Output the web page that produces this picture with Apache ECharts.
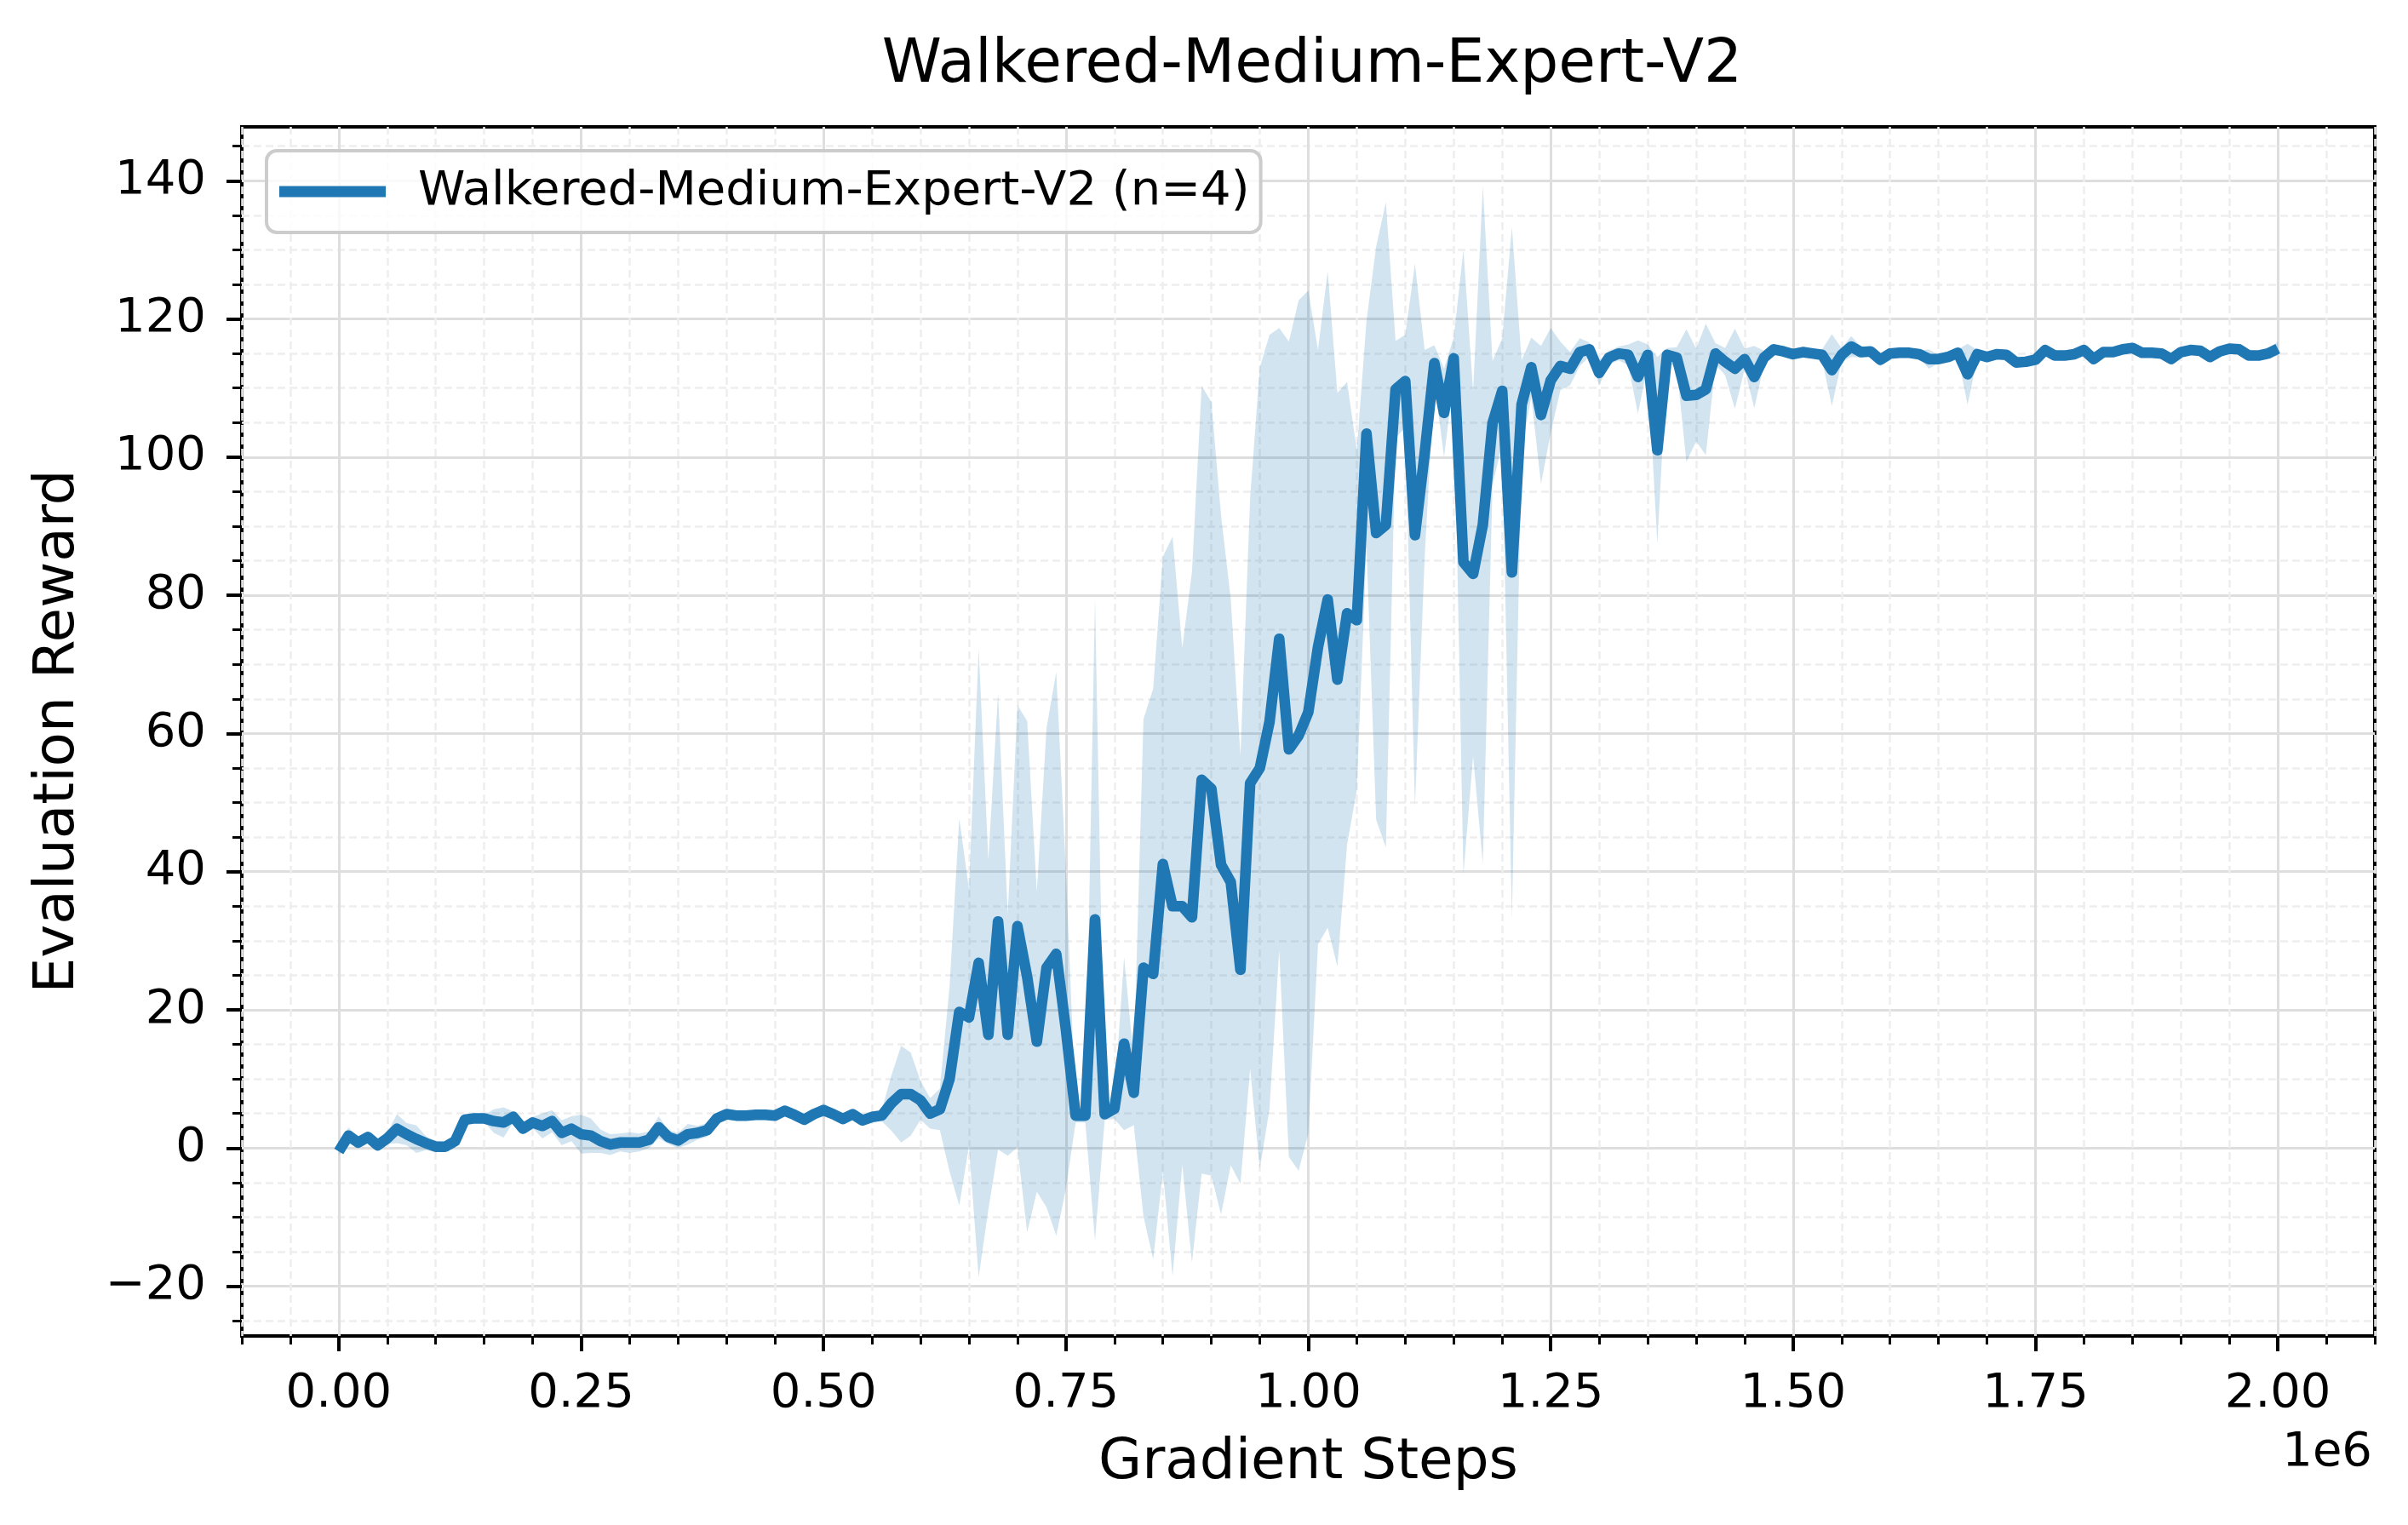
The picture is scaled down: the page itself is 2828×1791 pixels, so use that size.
<!DOCTYPE html>
<html>
<head>
<meta charset="utf-8">
<title>Walkered-Medium-Expert-V2</title>
<script src="https://cdn.jsdelivr.net/npm/echarts@6/dist/echarts.min.js"></script>
<style>
  html, body { margin: 0; padding: 0; background: #ffffff; }
  #chart { width: 2828px; height: 1791px; }
</style>
</head>
<body>
<div id="chart"></div>
<script>
// evaluation every 10k gradient steps, 0 .. 2e6
var evalEvery = 10000;

// mean evaluation reward over the 4 runs
var meanReward = [
  -0.5, 1.8, 0.8, 1.6, 0.4, 1.4, 2.8, 2.0, 1.3, 0.7,
  0.2, 0.2, 1.0, 4.1, 4.3, 4.3, 3.9, 3.7, 4.5, 2.8,
  3.7, 3.2, 3.9, 2.2, 2.8, 2.0, 1.8, 1.0, 0.5, 0.8,
  0.8, 0.8, 1.2, 3.0, 1.6, 1.1, 2.0, 2.2, 2.6, 4.3,
  4.9, 4.7, 4.7, 4.8, 4.8, 4.7, 5.4, 4.8, 4.1, 4.9,
  5.5, 4.9, 4.2, 4.9, 4.0, 4.5, 4.7, 6.5, 7.8, 7.8,
  6.9, 5.0, 5.6, 10.0, 19.7, 18.9, 26.8, 16.4, 32.8, 16.4,
  32.1, 24.8, 15.4, 26.1, 28.1, 17.1, 4.7, 4.7, 33.1, 4.9,
  5.7, 15.1, 8.0, 26.1, 25.2, 41.1, 35.0, 35.0, 33.4, 53.3,
  52.0, 41.0, 38.5, 25.8, 52.8, 55.0, 61.7, 73.7, 57.7, 59.7,
  63.1, 72.5, 79.4, 67.8, 77.4, 76.4, 103.4, 89.0, 90.2, 109.8,
  111.0, 88.7, 100.5, 113.6, 106.4, 114.3, 84.8, 83.1, 90.2, 104.9,
  109.6, 83.3, 107.6, 113.0, 106.1, 111.1, 113.2, 112.8, 115.2, 115.6,
  112.2, 114.4, 115.0, 114.8, 111.6, 114.8, 101.0, 114.8, 114.4, 108.9,
  109.0, 109.8, 115.0, 113.8, 112.8, 114.2, 111.6, 114.4, 115.6, 115.3,
  114.9, 115.2, 115.0, 114.8, 112.6, 114.8, 116.0, 115.2, 115.3, 114.1,
  115.0, 115.1, 115.1, 114.9, 114.2, 114.2, 114.5, 115.1, 112.0, 114.9,
  114.5, 114.9, 114.8, 113.7, 113.8, 114.1, 115.5, 114.7, 114.7, 114.9,
  115.5, 114.2, 115.2, 115.2, 115.6, 115.8, 115.1, 115.1, 115.0, 114.2,
  115.2, 115.5, 115.4, 114.5, 115.3, 115.7, 115.6, 114.7, 114.7, 115.0,
  115.7
];

// standard deviation over the runs (shaded band = mean +/- std)
var stdReward = [
  0.5, 1.2, 0.6, 0.6, 0.6, 0.8, 2.1, 1.6, 2.0, 1.0,
  0.8, 0.7, 1.0, 0.5, 0.5, 0.5, 1.7, 2.2, 0.8, 0.8,
  0.8, 1.8, 1.6, 1.8, 1.8, 2.8, 2.5, 1.7, 1.5, 1.3,
  1.5, 1.3, 1.2, 1.6, 1.0, 1.1, 1.5, 1.0, 1.0, 0.6,
  0.6, 0.5, 0.5, 0.6, 0.6, 0.5, 0.8, 0.6, 0.6, 0.6,
  1.0, 0.6, 0.6, 0.5, 0.8, 0.8, 0.8, 4.0, 7.0, 6.0,
  2.8, 2.2, 3.0, 13.4, 28.0, 18.6, 45.5, 25.3, 33.0, 17.5,
  32.0, 37.0, 21.7, 34.7, 40.8, 23.0, 1.0, 1.0, 46.5, 0.8,
  1.5, 12.5, 4.7, 36.0, 41.3, 44.5, 53.5, 37.4, 50.0, 57.0,
  56.0, 50.6, 41.0, 31.0, 41.3, 58.0, 56.0, 45.0, 59.0, 63.0,
  61.0, 43.0, 47.5, 41.5, 33.5, 24.6, 16.3, 41.5, 46.7, 7.0,
  6.7, 39.3, 15.0, 2.6, 6.4, 3.0, 45.2, 26.4, 49.0, 9.0,
  7.6, 50.0, 6.4, 4.3, 10.0, 7.6, 3.5, 2.4, 2.0, 1.0,
  1.8, 1.0, 1.0, 1.5, 5.3, 1.5, 13.5, 1.0, 1.5, 9.6,
  6.7, 9.5, 1.5, 2.0, 5.8, 1.5, 4.5, 1.0, 0.8, 0.6,
  0.5, 0.5, 0.6, 0.8, 5.2, 1.0, 1.5, 0.8, 0.6, 1.0,
  0.6, 0.5, 0.5, 0.5, 1.4, 0.6, 0.5, 0.5, 4.4, 0.6,
  0.5, 0.5, 0.5, 0.6, 0.6, 0.5, 0.8, 0.5, 0.5, 0.5,
  0.8, 0.5, 0.5, 0.5, 0.5, 0.5, 0.5, 0.5, 0.5, 0.5,
  0.5, 0.5, 0.5, 0.5, 0.5, 0.5, 0.5, 0.5, 0.5, 0.5,
  1.0
];

var xTicks = [0, 250000, 500000, 750000, 1000000, 1250000, 1500000, 1750000, 2000000];
var yTicks = [-20, 0, 20, 40, 60, 80, 100, 120, 140];

var seriesName = 'Walkered-Medium-Expert-V2 (n=4)';
var font = 'DejaVu Sans';

var steps = meanReward.map(function (v, i) { return i * evalEvery; });
var lineData = steps.map(function (x, i) { return [x, meanReward[i]]; });
// [step, mean - std, mean + std]
var bandData = steps.map(function (x, i) {
  return [x, meanReward[i] - stdReward[i], meanReward[i] + stdReward[i]];
});

function range(start, end, step) {
  var out = [];
  for (var v = start; v <= end + 1e-9; v += step) out.push(Math.round(v * 1000) / 1000);
  return out;
}
// minor ticks (matplotlib AutoMinorLocator style)
var xMinor = range(-100000, 2100000, 50000);
var yMinor = range(-25, 145, 5);

var xMin = -100000, xMax = 2100000;
var yMin = -27.2, yMax = 147.8;

// fill_between: one polygon, upper edge left->right then lower edge back
function renderBand(params, api) {
  if (params.dataIndex !== 0) return null;
  var pts = [];
  for (var i = 0; i < bandData.length; i++) pts.push(api.coord([bandData[i][0], bandData[i][2]]));
  for (var j = bandData.length - 1; j >= 0; j--) pts.push(api.coord([bandData[j][0], bandData[j][1]]));
  return {
    type: 'polygon',
    shape: { points: pts },
    style: { fill: 'rgba(31,119,180,0.2)' },
    silent: true
  };
}

var myChart = echarts.init(document.getElementById('chart'), null, { renderer: 'canvas' });

var option = {
  backgroundColor: '#ffffff',
  animation: false,
  title: {
    text: 'Walkered-Medium-Expert-V2',
    left: 1536,
    top: 37,
    textAlign: 'center',
    textStyle: { fontFamily: font, fontSize: 71, fontWeight: 'normal', color: '#000' }
  },
  legend: {
    data: [{ name: seriesName, icon: 'rect' }],
    left: 313,
    top: 177,
    itemWidth: 125,
    itemHeight: 13,
    padding: [15, 13, 15, 15],
    backgroundColor: 'rgba(255,255,255,0.8)',
    borderColor: '#cccccc',
    borderWidth: 4,
    borderRadius: 12,
    selectedMode: false,
    textStyle: { fontFamily: font, fontSize: 56, color: '#000', lineHeight: 66, padding: [0, 0, 0, 33] }
  },
  grid: {
    left: 284, top: 149, right: 39, bottom: 222,
    show: true,
    borderColor: '#000',
    borderWidth: 4,
    backgroundColor: 'transparent',
    containLabel: false
  },
  xAxis: [
    { // minor ticks + dashed minor grid
      type: 'value', min: xMin, max: xMax, position: 'bottom',
      axisLine: { show: false, onZero: false },
      axisTick: { show: true, length: 10, customValues: xMinor, lineStyle: { color: '#000', width: 3 } },
      axisLabel: { show: false },
      splitLine: { show: true, lineStyle: { color: '#eeeeee', width: 2.5, type: [9, 5] } }
    },
    { // major ticks, labels, solid grid
      type: 'value', min: xMin, max: xMax, position: 'bottom',
      axisLine: { show: false, onZero: false },
      axisTick: { show: true, length: 18, customValues: xTicks, lineStyle: { color: '#000', width: 4 } },
      axisLabel: {
        customValues: xTicks,
        margin: 40,
        fontFamily: font, fontSize: 56, color: '#000',
        formatter: function (v) { return (v / 1e6).toFixed(2); }
      },
      splitLine: { show: true, lineStyle: { color: '#dedede', width: 3 } },
      name: 'Gradient Steps',
      nameLocation: 'middle',
      nameGap: 117,
      nameTextStyle: { fontFamily: font, fontSize: 66, color: '#000' }
    }
  ],
  yAxis: [
    {
      type: 'value', min: yMin, max: yMax, position: 'left',
      axisLine: { show: false, onZero: false },
      axisTick: { show: true, length: 11, customValues: yMinor, lineStyle: { color: '#000', width: 3 } },
      axisLabel: { show: false },
      splitLine: { show: true, lineStyle: { color: '#eeeeee', width: 2.5, type: [9, 5] } }
    },
    {
      type: 'value', min: yMin, max: yMax, position: 'left',
      axisLine: { show: false, onZero: false },
      axisTick: { show: true, length: 18, customValues: yTicks, lineStyle: { color: '#000', width: 4 } },
      axisLabel: {
        customValues: yTicks,
        margin: 42,
        fontFamily: font, fontSize: 56, color: '#000',
        formatter: function (v) { return String(v).replace('-', '\u2212'); }
      },
      splitLine: { show: true, lineStyle: { color: '#dedede', width: 3 } },
      name: 'Evaluation Reward',
      nameLocation: 'middle',
      nameGap: 182,
      nameRotate: 90,
      nameTextStyle: { fontFamily: font, fontSize: 66, color: '#000' }
    }
  ],
  graphic: [{
    type: 'text',
    right: 42,
    top: 1678,
    style: { text: '1e6', font: '56px "DejaVu Sans"', fill: '#000' }
  }],
  series: [
    {
      name: 'band', type: 'custom', xAxisIndex: 1, yAxisIndex: 1,
      data: bandData,
      encode: { x: 0, y: [1, 2] },
      renderItem: renderBand,
      silent: true, z: 1
    },
    {
      name: seriesName, type: 'line', xAxisIndex: 1, yAxisIndex: 1,
      data: lineData,
      symbol: 'none', z: 3,
      itemStyle: { color: '#1f77b4' },
      lineStyle: { color: '#1f77b4', width: 12.5, join: 'round' }
    }
  ]
};

myChart.setOption(option);
</script>
</body>
</html>
